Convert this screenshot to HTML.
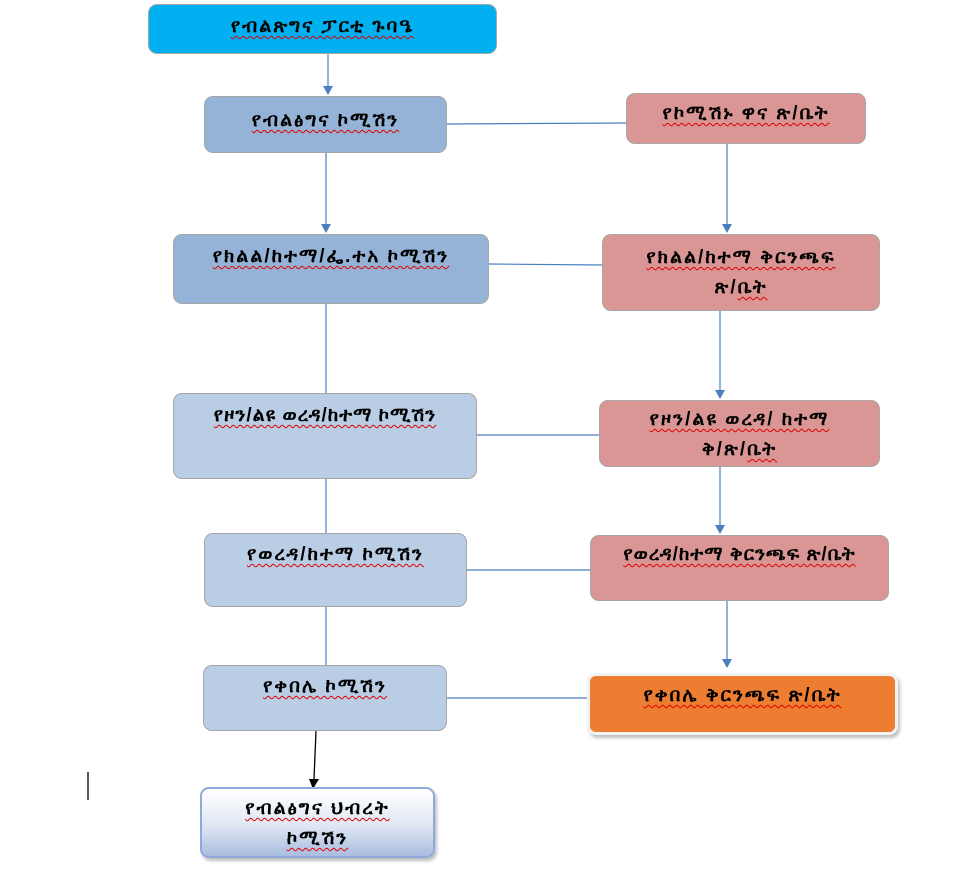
<!DOCTYPE html>
<html><head><meta charset="utf-8"><style>
body{margin:0;width:975px;height:878px;background:#fff;position:relative;overflow:hidden;font-family:"Liberation Sans","DejaVu Sans",sans-serif}
.b{position:absolute;box-sizing:border-box;border-radius:9px;border:1px solid #a6a6a6;text-align:center;font-weight:bold;font-size:19px;letter-spacing:2px;color:#000;line-height:30px}
.b span{text-decoration:underline wavy #e00000;text-decoration-thickness:1px;text-underline-offset:3px}
svg{position:absolute;left:0;top:0}
</style></head><body>
<svg width="975" height="878">
<defs><marker id="a" markerWidth="10" markerHeight="10" refX="5" refY="9" markerUnits="userSpaceOnUse"><path d="M0,0 L10,0 L5,10z" fill="#4a7ebf"/></marker>
<marker id="k" markerWidth="10" markerHeight="10" refX="5" refY="9" markerUnits="userSpaceOnUse"><path d="M0,0 L10,0 L5,10z" fill="#000"/></marker></defs>
<g stroke="#4a7ebf" stroke-width="1.2" fill="none">
<line x1="328" y1="54" x2="328" y2="86"/><path d="M323,86 L333,86 L328,95z" fill="#4a7ebf" stroke="none"/>
<line x1="447" y1="124" x2="626" y2="123"/>
<line x1="326" y1="153" x2="326" y2="224"/><path d="M321,224 L331,224 L326,233z" fill="#4a7ebf" stroke="none"/>
<line x1="727" y1="144" x2="727" y2="224"/><path d="M722,224 L732,224 L727,233z" fill="#4a7ebf" stroke="none"/>
<line x1="489" y1="264" x2="602" y2="265"/>
<line x1="326" y1="304" x2="326" y2="393"/>
<line x1="720" y1="311" x2="720" y2="390"/><path d="M715,390 L725,390 L720,399z" fill="#4a7ebf" stroke="none"/>
<line x1="477" y1="435" x2="599" y2="435"/>
<line x1="326" y1="479" x2="326" y2="533"/>
<line x1="720" y1="467" x2="720" y2="525"/><path d="M715,525 L725,525 L720,534z" fill="#4a7ebf" stroke="none"/>
<line x1="467" y1="570" x2="590" y2="570"/>
<line x1="326" y1="607" x2="326" y2="665"/>
<line x1="727" y1="601" x2="727" y2="659"/><path d="M722,659 L732,659 L727,668z" fill="#4a7ebf" stroke="none"/>
<line x1="447" y1="698" x2="587" y2="698"/>
</g>
<line x1="316" y1="731" x2="314" y2="779" stroke="#000" stroke-width="1.3"/>
<path d="M309,779 L319,779 L313,789z" fill="#000"/>
<line x1="88" y1="772" x2="88" y2="800" stroke="#000" stroke-width="1.3"/>
</svg>
<div class="b" style="left:148px;top:4px;width:349px;height:50px;background:#00b0f0;padding-top:7px"><span>የብልጽግና ፓርቲ ጉባዔ</span></div>
<div class="b" style="left:204px;top:96px;width:243px;height:57px;background:#95b3d7;padding-top:9px"><span>የብልፅግና ኮሚሽን</span></div>
<div class="b" style="left:626px;top:93px;width:240px;height:51px;background:#d99694;padding-top:5px"><span>የኮሚሽኑ ዋና ጽ/ቤት</span></div>
<div class="b" style="left:173px;top:234px;width:316px;height:70px;background:#95b3d7;padding-top:7px"><span>የክልል/ከተማ/ፌ.ተአ ኮሚሽን</span></div>
<div class="b" style="left:602px;top:234px;width:278px;height:77px;background:#d99694;padding-top:8px"><span>የክልል/ከተማ ቅርንጫፍ</span><br>ጽ/<span>ቤት</span></div>
<div class="b" style="left:173px;top:393px;width:304px;height:86px;background:#b9cde5;padding-top:7px;letter-spacing:1px"><span>የዞን/ልዩ ወረዳ/ከተማ ኮሚሽን</span></div>
<div class="b" style="left:599px;top:400px;width:281px;height:67px;background:#d99694;padding-top:4px"><span>የዞን/ልዩ ወረዳ/ ከተማ</span><br>ቅ/ጽ/<span>ቤት</span></div>
<div class="b" style="left:204px;top:533px;width:263px;height:74px;background:#b9cde5;padding-top:6px"><span>የወረዳ/ከተማ ኮሚሽን</span></div>
<div class="b" style="left:590px;top:535px;width:299px;height:66px;background:#d99694;padding-top:4px;letter-spacing:1px"><span>የወረዳ/ከተማ ቅርንጫፍ ጽ/ቤት</span></div>
<div class="b" style="left:203px;top:665px;width:244px;height:66px;background:#b9cde5;padding-top:6px"><span>የቀበሌ ኮሚሽን</span></div>
<div class="b" style="left:587px;top:673px;width:311px;height:62px;background:#ed7d31;border:3px solid #f2f2f2;box-shadow:2px 3px 3px #bfbfbf;padding-top:5px"><span>የቀበሌ ቅርንጫፍ ጽ/ቤት</span></div>
<div class="b" style="left:200px;top:787px;width:235px;height:71px;background:linear-gradient(#fff 0%,#dfe7f3 55%,#a9bde0 100%);border:2px solid #8eaadb;box-shadow:2px 3px 3px #bfbfbf;padding-top:5px"><span>የብልፅግና ህብረት</span><br><span>ኮሚሽን</span></div>
</body></html>
